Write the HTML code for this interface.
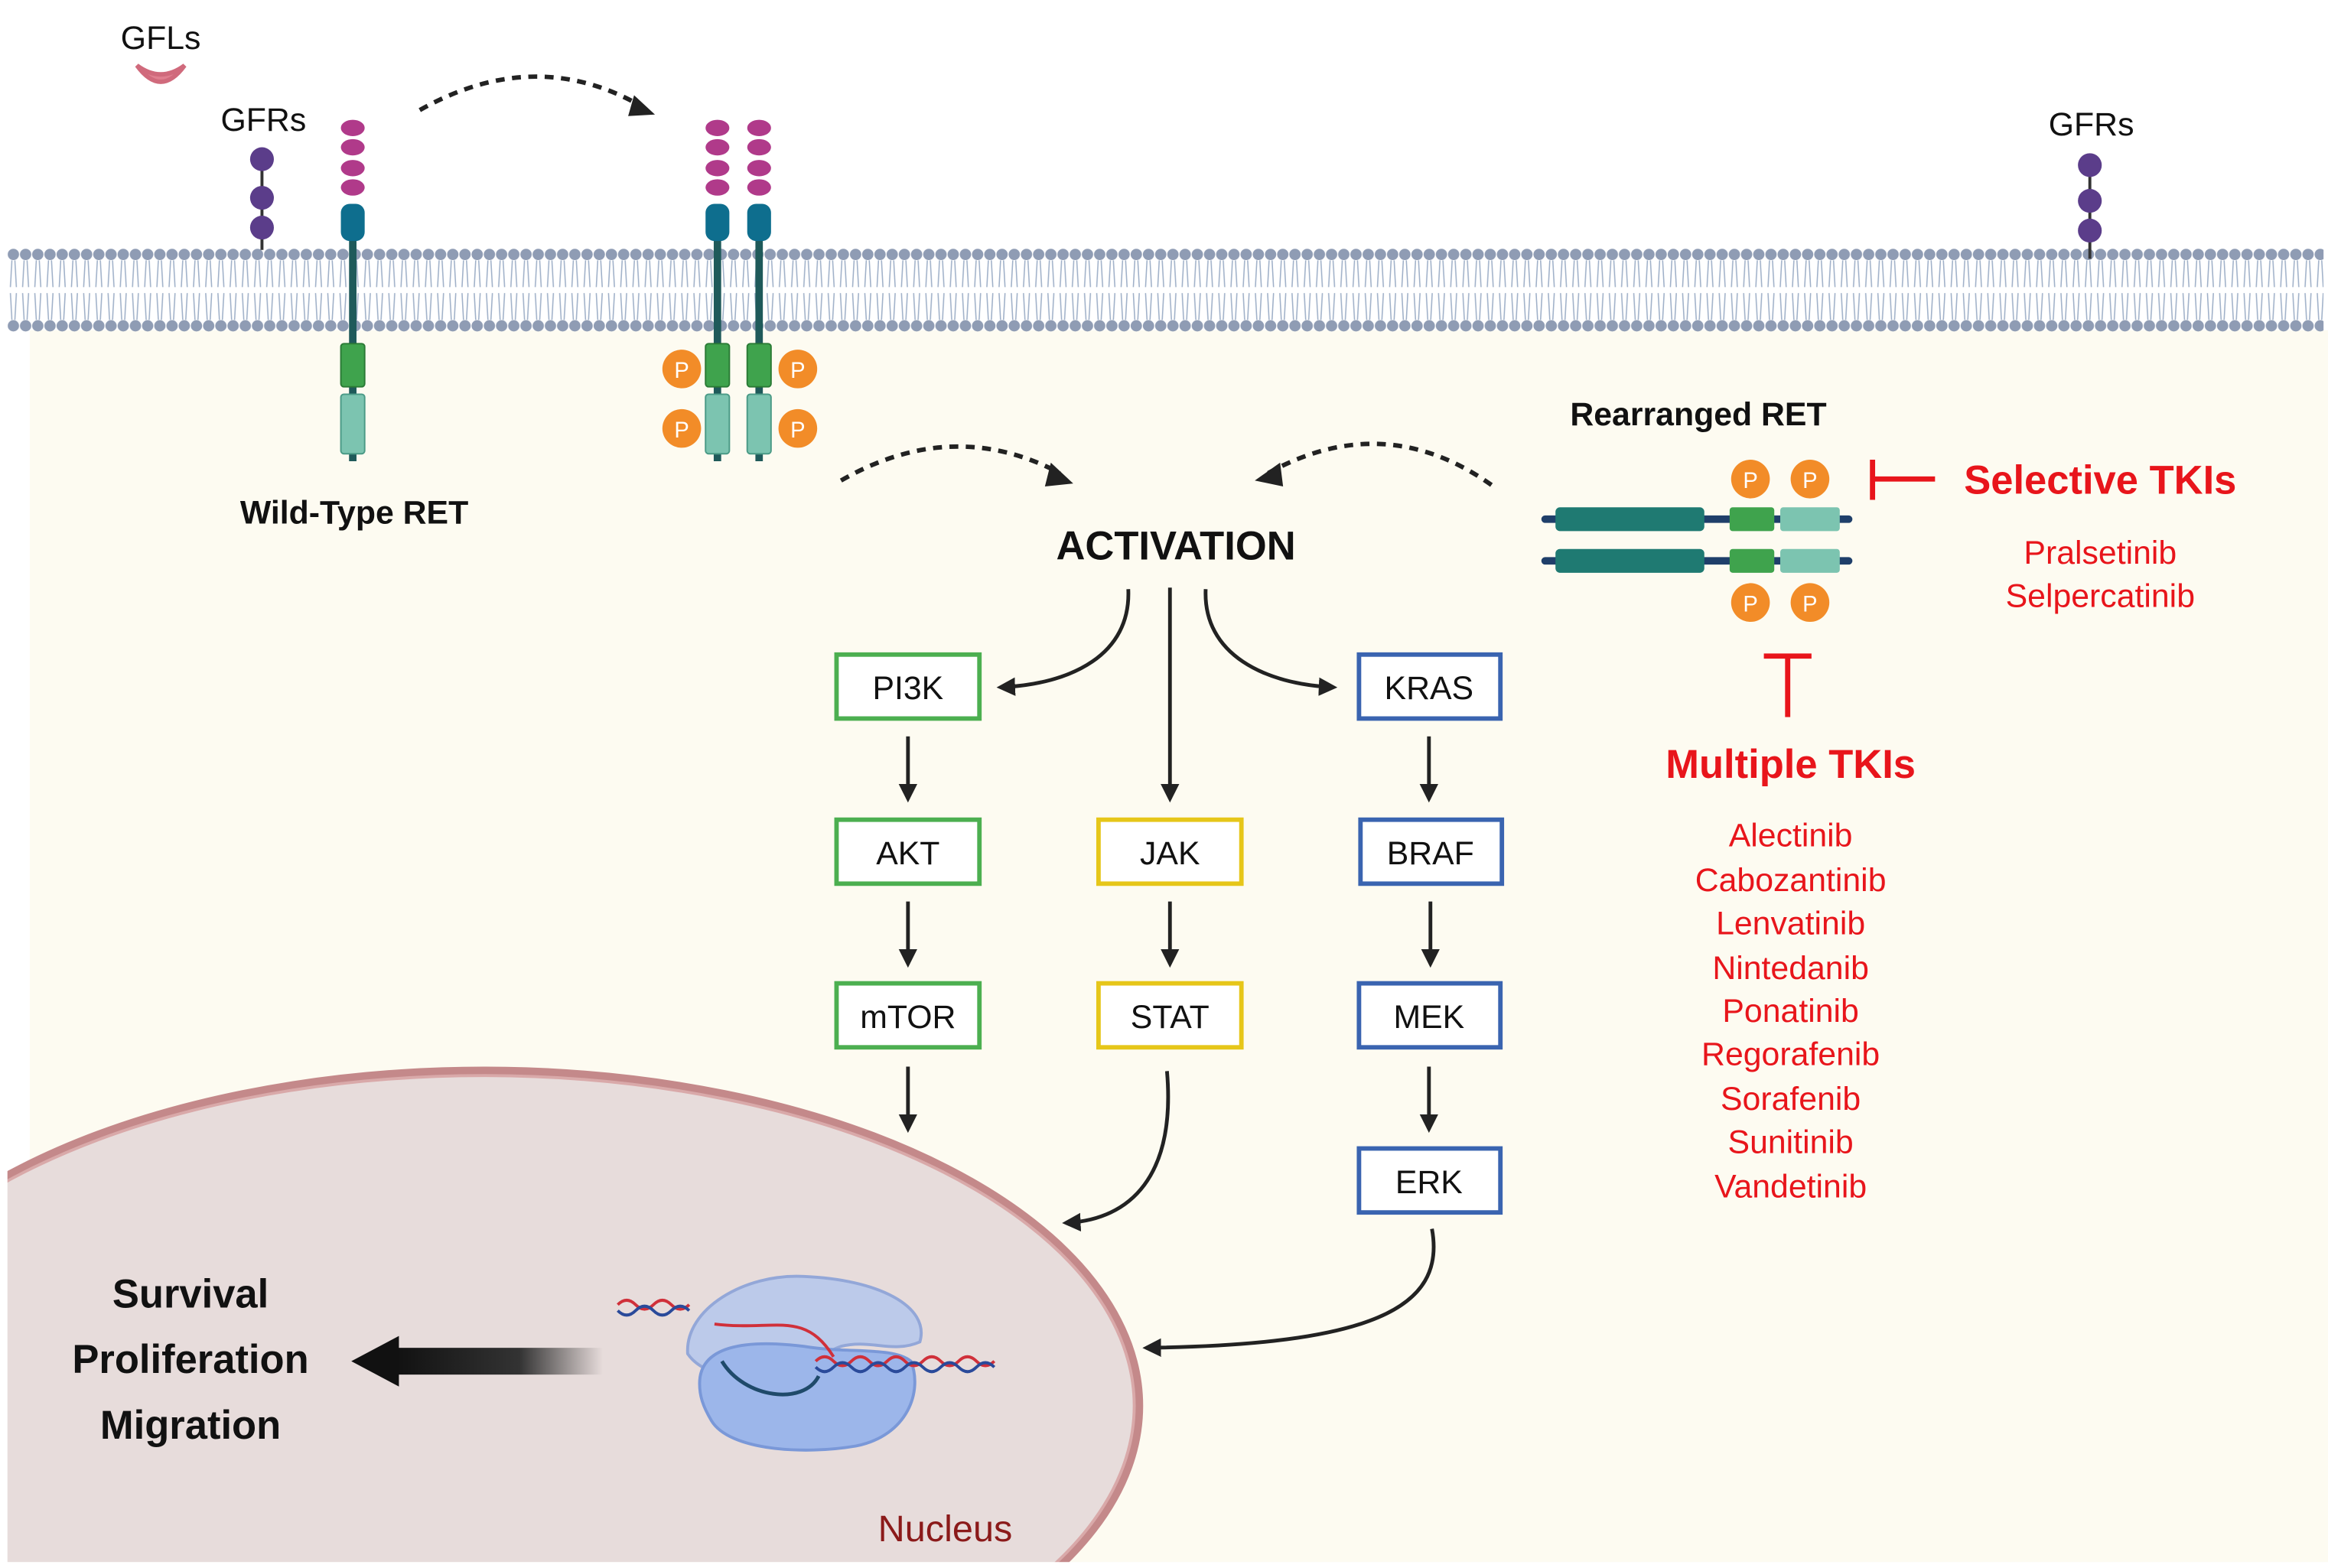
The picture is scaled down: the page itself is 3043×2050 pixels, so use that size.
<!DOCTYPE html>
<html><head><meta charset="utf-8"><style>
html,body{margin:0;padding:0;background:#fff;width:3043px;height:2050px;overflow:hidden;}
svg{display:block;}
text{font-family:"Liberation Sans","DejaVu Sans",sans-serif;}
</style></head><body>
<svg width="3043" height="2050" viewBox="0 0 1564 1054" preserveAspectRatio="none" xmlns="http://www.w3.org/2000/svg">
<defs>
<pattern id="mem" x="5" y="0" width="8.2" height="1054" patternUnits="userSpaceOnUse">
<line x1="3" y1="175" x2="2" y2="193" stroke="#9fb0c8" stroke-width="0.8"/>
<line x1="5" y1="175" x2="6" y2="193" stroke="#9fb0c8" stroke-width="0.8"/>
<line x1="2" y1="197" x2="3" y2="215" stroke="#9fb0c8" stroke-width="0.8"/>
<line x1="6" y1="197" x2="5" y2="215" stroke="#9fb0c8" stroke-width="0.8"/>
<circle cx="4" cy="171" r="3.8" fill="#8f9cb4"/>
<circle cx="4" cy="219" r="3.8" fill="#8f9cb4"/>
</pattern>
<marker id="ah" viewBox="0 0 10 10" refX="8" refY="5" markerWidth="5" markerHeight="5" orient="auto"><path d="M0,0 L10,5 L0,10 z" fill="#222"/></marker>
<linearGradient id="bg" x1="0" x2="1"><stop offset="0" stop-color="#111"/><stop offset="0.6" stop-color="#333"/><stop offset="1" stop-color="#333" stop-opacity="0"/></linearGradient>
</defs>
<rect x="0" y="0" width="1564" height="1054" fill="#fff"/>
<rect x="20" y="222" width="1544" height="832" fill="#fdfbf1"/>
<ellipse cx="325" cy="945" rx="440" ry="225" fill="#e7dcdb" stroke="#c4898a" stroke-width="6"/>
<ellipse cx="325" cy="945" rx="437" ry="222" fill="none" stroke="#d9a9a9" stroke-width="2"/>
<rect x="0" y="1050" width="1564" height="4" fill="#fff"/>
<rect x="0" y="700" width="5" height="354" fill="#fff"/>
<rect x="5" y="165" width="1556" height="60" fill="url(#mem)"/>
<path d="M92,44 Q108,66 124,44 Q108,56 92,44 z" fill="#e07f8f" stroke="#d06a7c" stroke-width="3"/>
<text x="108" y="33" font-size="22" text-anchor="middle" fill="#111">GFLs</text>
<text x="177" y="88" font-size="22" text-anchor="middle" fill="#111">GFRs</text>
<text x="1405" y="91" font-size="22" text-anchor="middle" fill="#111">GFRs</text>
<line x1="176" y1="107" x2="176" y2="168" stroke="#333" stroke-width="2"/>
<circle cx="176" cy="107" r="8" fill="#5b3d8a"/><circle cx="176" cy="133" r="8" fill="#5b3d8a"/><circle cx="176" cy="153" r="8" fill="#5b3d8a"/>
<line x1="1404" y1="107" x2="1404" y2="174" stroke="#333" stroke-width="2"/>
<circle cx="1404" cy="111" r="8" fill="#5b3d8a"/><circle cx="1404" cy="135" r="8" fill="#5b3d8a"/><circle cx="1404" cy="155" r="8" fill="#5b3d8a"/>
<g id="rec1">
<line x1="237" y1="150" x2="237" y2="310" stroke="#1f5a5a" stroke-width="5"/>
<ellipse cx="237" cy="86" rx="8" ry="5.5" fill="#b03a8a"/><ellipse cx="237" cy="99" rx="8" ry="5.5" fill="#b03a8a"/><ellipse cx="237" cy="113" rx="8" ry="5.5" fill="#b03a8a"/><ellipse cx="237" cy="126" rx="8" ry="5.5" fill="#b03a8a"/>
<rect x="229" y="137" width="16" height="25" rx="6" fill="#0e6e8e"/>
<rect x="229" y="231" width="16" height="29" rx="2" fill="#3fa34d" stroke="#2a7a35"/>
<rect x="229" y="265" width="16" height="40" rx="2" fill="#7cc4b0" stroke="#4a9a86"/>
</g>
<use href="#rec1" x="245" y="0"/>
<use href="#rec1" x="273" y="0"/>
<g font-size="15" text-anchor="middle" fill="#fff">
<circle cx="458" cy="248" r="13" fill="#f28c28"/><text x="458" y="254">P</text>
<circle cx="536" cy="248" r="13" fill="#f28c28"/><text x="536" y="254">P</text>
<circle cx="458" cy="288" r="13" fill="#f28c28"/><text x="458" y="294">P</text>
<circle cx="536" cy="288" r="13" fill="#f28c28"/><text x="536" y="294">P</text>
<circle cx="1176" cy="322" r="13" fill="#f28c28"/><text x="1176" y="328">P</text>
<circle cx="1216" cy="322" r="13" fill="#f28c28"/><text x="1216" y="328">P</text>
<circle cx="1176" cy="405" r="13" fill="#f28c28"/><text x="1176" y="411">P</text>
<circle cx="1216" cy="405" r="13" fill="#f28c28"/><text x="1216" y="411">P</text>
</g>
<g id="rr">
<line x1="1038" y1="349" x2="1242" y2="349" stroke="#1f3f6a" stroke-width="5" stroke-linecap="round"/>
<rect x="1045" y="341" width="100" height="16" rx="3" fill="#1f7a72"/>
<rect x="1162" y="341" width="30" height="16" rx="2" fill="#3fa34d"/>
<rect x="1196" y="341" width="40" height="16" rx="2" fill="#7cc4b0"/>
</g>
<use href="#rr" x="0" y="28"/>
<g fill="none" stroke="#222" stroke-width="3" stroke-dasharray="6,5">
<path d="M282,74 Q360,30 432,72"/>
<path d="M565,323 Q640,280 712,318"/>
<path d="M1002,326 Q930,275 852,318"/>
</g>
<path d="M426,64 L440,77 L422,78 z" fill="#222"/>
<path d="M706,311 L721,325 L702,327 z" fill="#222"/>
<path d="M860,311 L843,323 L862,327 z" fill="#222"/>
<g font-weight="bold" fill="#111">
<text x="238" y="352" font-size="22" text-anchor="middle">Wild-Type RET</text>
<text x="1141" y="286" font-size="22" text-anchor="middle">Rearranged RET</text>
<text x="790" y="376" font-size="27" text-anchor="middle">ACTIVATION</text>
<text x="128" y="879" font-size="27" text-anchor="middle">Survival</text>
<text x="128" y="923" font-size="27" text-anchor="middle">Proliferation</text>
<text x="128" y="967" font-size="27" text-anchor="middle">Migration</text>
</g>
<g fill="#e8151b" text-anchor="middle">
<text x="1411" y="332" font-size="27" font-weight="bold">Selective TKIs</text>
<text x="1411" y="379" font-size="22">Pralsetinib</text>
<text x="1411" y="408" font-size="22">Selpercatinib</text>
<text x="1203" y="523" font-size="27" font-weight="bold">Multiple TKIs</text>
<text x="1203" y="569" font-size="22">Alectinib</text>
<text x="1203" y="599" font-size="22">Cabozantinib</text>
<text x="1203" y="628" font-size="22">Lenvatinib</text>
<text x="1203" y="658" font-size="22">Nintedanib</text>
<text x="1203" y="687" font-size="22">Ponatinib</text>
<text x="1203" y="716" font-size="22">Regorafenib</text>
<text x="1203" y="746" font-size="22">Sorafenib</text>
<text x="1203" y="775" font-size="22">Sunitinib</text>
<text x="1203" y="805" font-size="22">Vandetinib</text>
</g>
<g stroke="#e8151b" stroke-width="3.5" fill="none">
<line x1="1258" y1="309" x2="1258" y2="336"/><line x1="1258" y1="322" x2="1300" y2="322"/>
<line x1="1185" y1="441" x2="1217" y2="441"/><line x1="1201" y1="441" x2="1201" y2="482"/>
</g>
<text x="635" y="1036" font-size="25" text-anchor="middle" fill="#8b1a1a">Nucleus</text>
<g font-size="22" text-anchor="middle" fill="#111" stroke-width="3">
<rect x="562" y="440" width="96" height="43" fill="#fff" stroke="#4caf50"/><text x="610" y="470">PI3K</text>
<rect x="562" y="551" width="96" height="43" fill="#fff" stroke="#4caf50"/><text x="610" y="581">AKT</text>
<rect x="562" y="661" width="96" height="43" fill="#fff" stroke="#4caf50"/><text x="610" y="691">mTOR</text>
<rect x="738" y="551" width="96" height="43" fill="#fff" stroke="#e6c619"/><text x="786" y="581">JAK</text>
<rect x="738" y="661" width="96" height="43" fill="#fff" stroke="#e6c619"/><text x="786" y="691">STAT</text>
<rect x="913" y="440" width="95" height="43" fill="#fff" stroke="#3a64b0"/><text x="960" y="470">KRAS</text>
<rect x="914" y="551" width="95" height="43" fill="#fff" stroke="#3a64b0"/><text x="961" y="581">BRAF</text>
<rect x="913" y="661" width="95" height="43" fill="#fff" stroke="#3a64b0"/><text x="960" y="691">MEK</text>
<rect x="913" y="772" width="95" height="43" fill="#fff" stroke="#3a64b0"/><text x="960" y="802">ERK</text>
</g>
<g stroke="#222" stroke-width="2.5" fill="none" marker-end="url(#ah)">
<line x1="610" y1="495" x2="610" y2="537"/>
<line x1="610" y1="606" x2="610" y2="648"/>
<line x1="610" y1="717" x2="610" y2="759"/>
<line x1="786" y1="606" x2="786" y2="648"/>
<line x1="960" y1="495" x2="960" y2="537"/>
<line x1="961" y1="606" x2="961" y2="648"/>
<line x1="960" y1="717" x2="960" y2="759"/>
<line x1="786" y1="395" x2="786" y2="537"/>
<path d="M758,396 C760,440 720,460 672,462"/>
<path d="M810,396 C808,440 850,460 896,462"/>
<path d="M784,720 C790,790 760,820 716,822"/>
<path d="M962,826 C972,880 920,904 770,906"/>
</g>
<rect x="265" y="906" width="140" height="18" fill="url(#bg)"/>
<path d="M236,915 L268,898 L268,932 z" fill="#111"/>
<path d="M462,910 C460,880 500,856 540,858 C590,860 625,878 618,902 C600,910 585,900 565,905 C545,912 540,930 520,930 C490,928 470,922 462,910 z" fill="#b8c9ec" stroke="#8aa2d8" stroke-width="2" opacity="0.9"/>
<path d="M470,930 C470,905 500,900 540,905 C570,910 600,905 612,915 C620,935 610,965 575,972 C540,978 490,975 478,955 C472,945 470,938 470,930 z" fill="#9cb6ea" stroke="#7a98d8" stroke-width="2"/>
<path d="M485,915 C500,940 540,945 550,925" stroke="#1f4a6a" stroke-width="2.5" fill="none"/>
<path d="M415,877 q6,-6 12,0 t12,0 t12,0 t12,0 M480,890 C520,895 540,880 560,912 M548,915 q6,-6 12,0 t12,0 t12,0 t12,0 t12,0 t12,0 t12,0 t12,0 t12,0 t12,0" stroke="#d0303a" stroke-width="2" fill="none"/>
<path d="M415,881 q6,6 12,0 t12,0 t12,0 t12,0 M548,919 q6,6 12,0 t12,0 t12,0 t12,0 t12,0 t12,0 t12,0 t12,0 t12,0 t12,0" stroke="#2a4a9a" stroke-width="2" fill="none"/>
</svg>
</body></html>
